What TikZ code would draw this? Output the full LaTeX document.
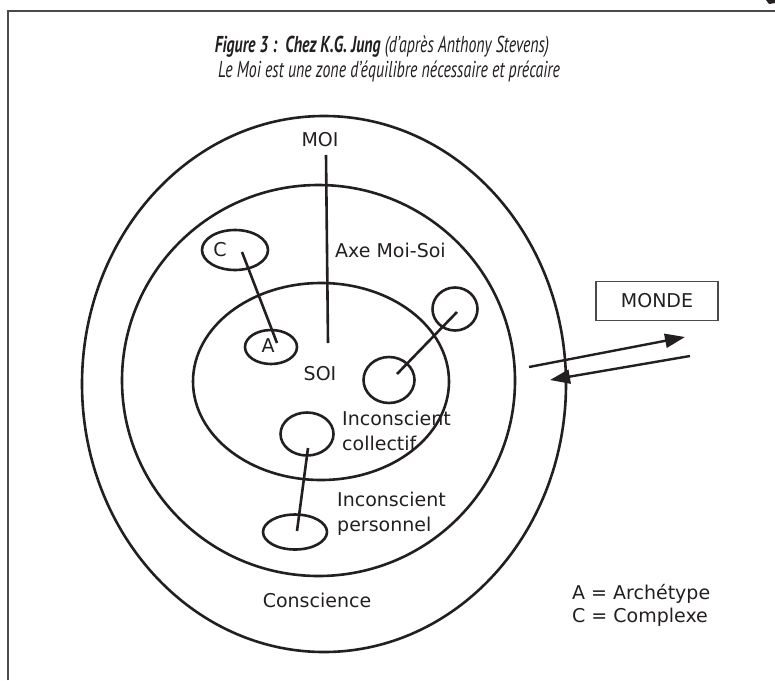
\documentclass[tikz,border=0pt]{standalone}
\usepackage{fontspec}
\setmainfont{DejaVu Sans}
\newfontfamily\titlefont[FakeStretch=0.69]{PT Sans}
\usetikzlibrary{shapes.geometric,arrows.meta}
\definecolor{ink}{HTML}{231F20}
\definecolor{framegray}{HTML}{4A4A4A}
\begin{document}
\begin{tikzpicture}[x=1pt,y=-1pt,
  ring/.style={draw=ink, line width=2.6pt, ellipse, inner sep=0pt},
  link/.style={draw=ink, line width=2.6pt},
  lbl/.style={font=\fontsize{19}{25}\selectfont, text=ink, inner sep=0pt},
  ttl/.style={font=\titlefont\itshape\fontsize{23}{24}\selectfont, text=ink, inner sep=0pt},
  flow/.style={draw=ink, line width=2.4pt, -{Triangle[length=20pt,width=14pt]}}
]
\useasboundingbox (0,0) rectangle (775,680);
% frame
\draw[framegray, line width=2pt] (8,680) -- (8,11) -- (775,11);
\fill[ink] (766,0) -- (775,0) -- (775,3) -- (769,4) -- cycle;
% titles
\node[ttl] (t1) at (382,47) {\textbf{Figure 3 :~~Chez K.G. Jung} (d’après Anthony Stevens)};
\node[ttl] (t2) at (389,72) {Le Moi est une zone d’équilibre nécessaire et précaire};
% rings
\node[ring, minimum width=484pt, minimum height=536pt] (outer) at (324,384) {};
\node[ring, minimum width=393pt, minimum height=391pt] (middle) at (318.5,380.5) {};
\node[ring, minimum width=256pt, minimum height=197pt] (inner) at (321,381.5) {};
% small ellipses
\node[ring, minimum width=66pt, minimum height=40pt] (cx) at (235,250) {};
\node[ring, minimum width=52pt, minimum height=34pt] (ax) at (271,347) {};
\node[ring, minimum width=45pt, minimum height=43pt] (r1) at (455,309) {};
\node[ring, minimum width=51pt, minimum height=46pt] (r2) at (389,380) {};
\node[ring, minimum width=53pt, minimum height=43pt] (coll) at (307,434) {};
\node[ring, minimum width=64pt, minimum height=35pt] (pers) at (295,532) {};
% connector ends
\coordinate (axetop) at (326,155);
\coordinate (axebot) at (328,343);
\coordinate (cend) at (242,252);
\coordinate (aend) at (277,343);
\coordinate (r2end) at (397,374);
\coordinate (r1end) at (457,312);
\coordinate (collend) at (308,448);
\coordinate (persend) at (297,531);
\draw[link] (axetop) -- (axebot);
\draw[link] (cend) -- (aend);
\draw[link] (r2end) -- (r1end);
\draw[link] (collend) -- (persend);
% labels
\node[lbl] (moi) at (320,140) {MOI};
\node[lbl, anchor=west] (axe) at (335,250) {Axe Moi-Soi};
\node[lbl] (soi) at (320,374) {SOI};
\node[lbl] (cl) at (220,250) {C};
\node[lbl] (al) at (268,346) {A};
\node[lbl, anchor=west, align=left] (incoll) at (342,431) {Inconscient\\collectif};
\node[lbl, anchor=west, align=left] (inpers) at (337,514) {Inconscient\\personnel};
\node[lbl] (consc) at (317,600) {Conscience};
\node[lbl, anchor=west, align=left, font=\fontsize{19}{23}\selectfont] (legend) at (572,605) {A = Archétype\\C = Complexe};
% monde
\node[lbl, draw=framegray, line width=1.2pt, minimum width=122pt, minimum height=39pt] (monde) at (657,301) {MONDE};
\coordinate (a1s) at (529,367);
\coordinate (a1e) at (685,337);
\coordinate (a2s) at (690,356);
\coordinate (a2e) at (550,380);
\draw[flow] (a1s) -- (a1e);
\draw[flow] (a2s) -- (a2e);
\end{tikzpicture}
\end{document}
